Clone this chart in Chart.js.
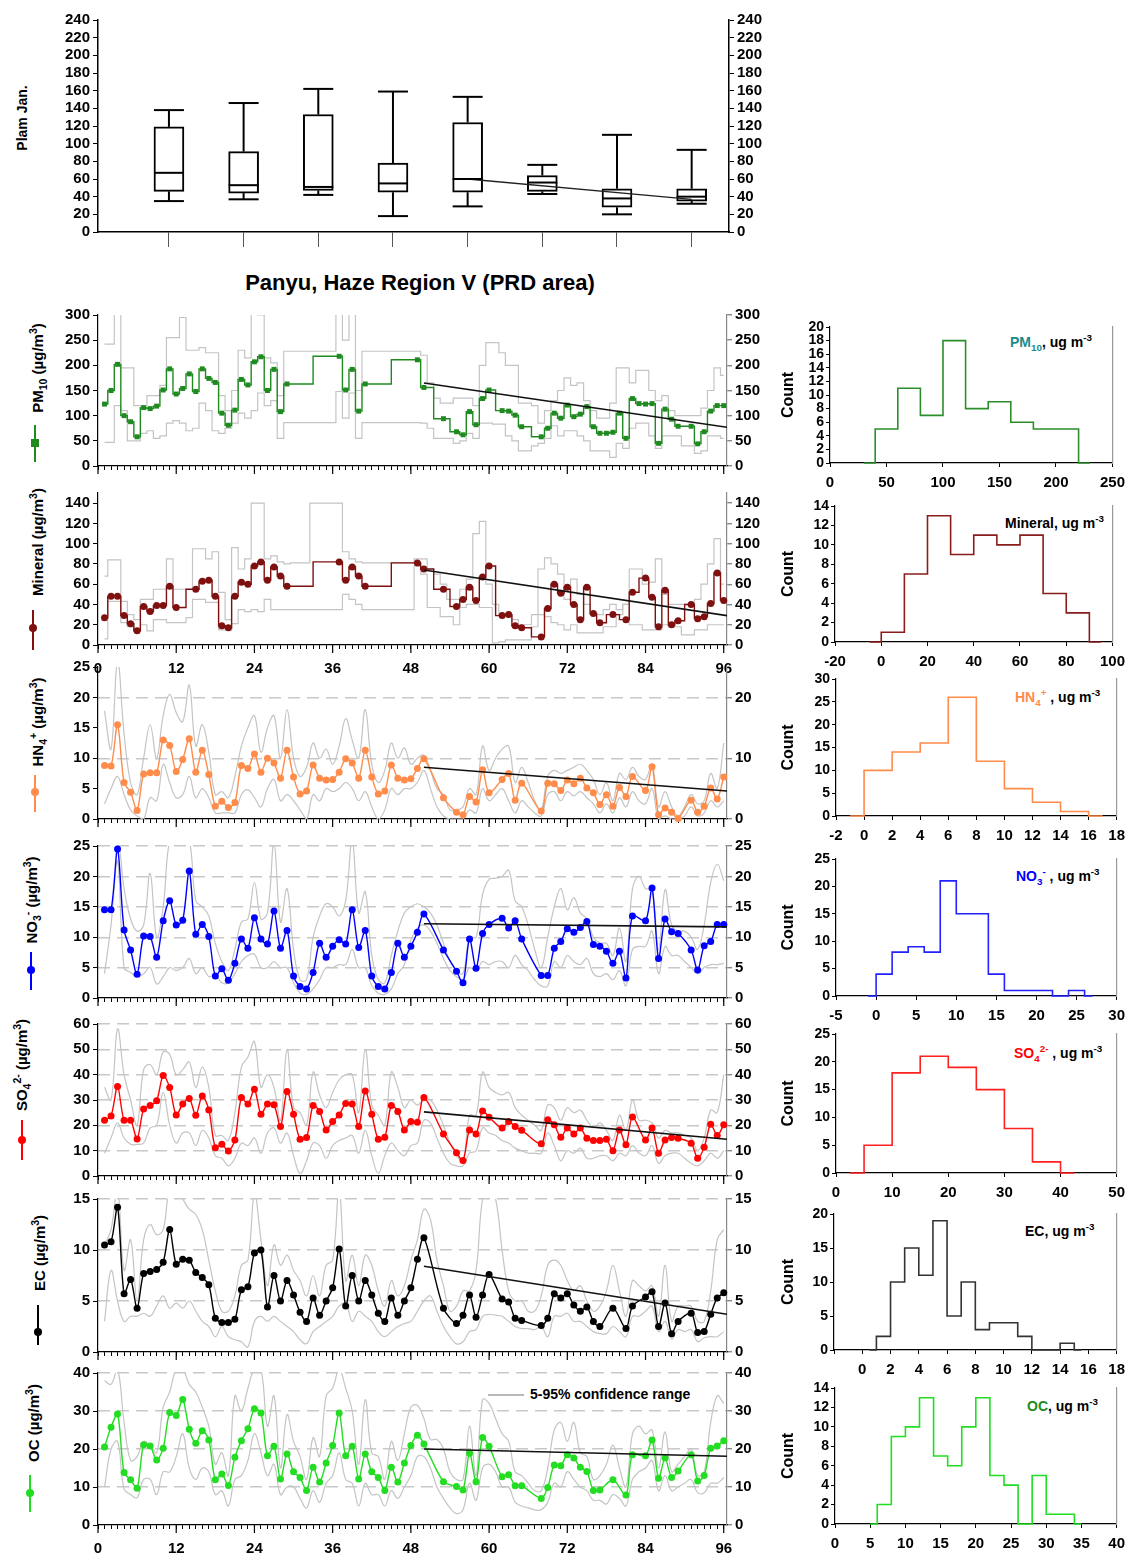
<!DOCTYPE html>
<html>
<head>
<meta charset="utf-8">
<title>Panyu, Haze Region V (PRD area)</title>
<script src="https://cdn.jsdelivr.net/npm/chart.js@4.4.1/dist/chart.umd.min.js"></script>
<style>
  body { margin: 0; background: #fff; }
  #page { position: relative; width: 1132px; height: 1557px; overflow: hidden;
          font-family: "Liberation Sans", Arial, sans-serif; font-weight: bold; color: #000; }
  #page canvas { position: absolute; }
  .rot { position: absolute; white-space: nowrap; font-size: 15px;
         transform: translate(-50%, -50%) rotate(-90deg); }
  .lbl { position: absolute; white-space: nowrap; font-size: 14px; }
  sub, sup { font-size: 0.7em; line-height: 0; }
  .vline { position: absolute; width: 1.5px; }
  .mark { position: absolute; width: 8px; height: 8px; border-radius: 50%; transform: translate(-50%, -50%); }
</style>
</head>
<body>
<div id="page">
  <!-- box plot labels -->
  <div class="rot" style="left:22px;top:118px;font-size:14px">Plam Jan.</div>
  <div style="position:absolute;left:420px;top:283px;transform:translate(-50%,-50%);font-size:22px;white-space:nowrap">Panyu, Haze Region V (PRD area)</div>

  <!-- time series axis titles + legend marks -->
  <div class="rot" style="left:37px;top:368px">PM<sub>10</sub> (µg/m<sup>3</sup>)</div>
  <div class="vline" style="left:34px;top:425px;height:37px;background:#1f8a1f"></div>
  <div class="mark" style="left:35px;top:443px;background:#1f8a1f;border-radius:0"></div>

  <div class="rot" style="left:37px;top:542px">Mineral (µg/m<sup>3</sup>)</div>
  <div class="vline" style="left:32px;top:610px;height:40px;background:#7f1010"></div>
  <div class="mark" style="left:33px;top:628px;background:#7f1010"></div>

  <div class="rot" style="left:37px;top:722px">HN<sub>4</sub><sup>+</sup> (µg/m<sup>3</sup>)</div>
  <div class="vline" style="left:34px;top:775px;height:37px;background:#ff8c4a"></div>
  <div class="mark" style="left:35px;top:792px;background:#ff8c4a"></div>

  <div class="rot" style="left:31px;top:900px">NO<sub>3</sub><sup>-</sup> (µg/m<sup>3</sup>)</div>
  <div class="vline" style="left:30px;top:952px;height:38px;background:#0000ff"></div>
  <div class="mark" style="left:31px;top:970px;background:#0000ff"></div>

  <div class="rot" style="left:21px;top:1065px">SO<sub>4</sub><sup>2-</sup> (µg/m<sup>3</sup>)</div>
  <div class="vline" style="left:21px;top:1120px;height:40px;background:#ff0000"></div>
  <div class="mark" style="left:22px;top:1140px;background:#ff0000"></div>

  <div class="rot" style="left:39px;top:1253px">EC (µg/m<sup>3</sup>)</div>
  <div class="vline" style="left:37px;top:1305px;height:40px;background:#000"></div>
  <div class="mark" style="left:38px;top:1332px;background:#000"></div>

  <div class="rot" style="left:33px;top:1423px">OC (µg/m<sup>3</sup>)</div>
  <div class="vline" style="left:29px;top:1475px;height:37px;background:#22dd22"></div>
  <div class="mark" style="left:30px;top:1493px;background:#22dd22"></div>

  <div style="position:absolute;left:488px;top:1394px;width:36px;height:1.5px;background:#b8b8b8"></div>
  <div class="lbl" style="left:530px;top:1386px">5-95% confidence range</div>

  <!-- histogram labels -->
  <div class="lbl" style="left:1010px;top:334px"><span style="color:#1a8c8c">PM<sub>10</sub></span>, ug m<sup>-3</sup></div>
  <div class="lbl" style="left:1005px;top:515px">Mineral, ug m<sup>-3</sup></div>
  <div class="lbl" style="left:1015px;top:689px"><span style="color:#ff8c4a">HN<sub>4</sub><sup>+</sup></span> , ug m<sup>-3</sup></div>
  <div class="lbl" style="left:1016px;top:868px"><span style="color:#0000ff">NO<sub>3</sub><sup>-</sup></span> , ug m<sup>-3</sup></div>
  <div class="lbl" style="left:1014px;top:1045px"><span style="color:#ff0000">SO<sub>4</sub><sup>2-</sup></span> , ug m<sup>-3</sup></div>
  <div class="lbl" style="left:1025px;top:1223px">EC, ug m<sup>-3</sup></div>
  <div class="lbl" style="left:1027px;top:1398px"><span style="color:#1a8c1a">OC</span>, ug m<sup>-3</sup></div>
</div>

<script>
// ---- box plot (monthly groups) ----
const boxGroups = [1, 2, 3, 4, 5, 6, 7, 8];
const boxMin = [35, 37, 42, 18, 29, 43, 20, 32];
const boxQ1  = [46, 44, 47, 45, 45, 46, 28, 35];
const boxMed = [67, 53, 51, 55, 60, 56, 38, 40];
const boxQ3  = [119, 91, 133, 78, 124, 64, 49, 49];
const boxMax = [138, 146, 162, 159, 153, 76, 110, 93];
const boxTrendX = [5, 8];
const boxTrend  = [60, 37];

// ---- time series, x = sample number 1..96 (null = no sample) ----
const hours = Array.from({ length: 96 }, (_, i) => i + 1);
const trendHours = [50, 96.5];

const pm10 = [123,150,202,100,88,58,116,114,119,151,193,143,154,183,148,193,174,166,105,81,111,172,161,207,217,150,192,108,163,
  null,null,null,null,null,null,null, 218,151,192,109,163, null,null,null,null,null,null,null, 211,156, null,null, 94, null,
  68,62,108,82,134,151, null, 110,109,101,78, null,null,
  58,75,105,95,121,98,103,118,78,65,65,67,105,55,134,124,123,124,45,113,93,79, null, 79,44,68,109,120,120];
const pm10Upper = [242,242,310,195,195,120,120,140,140,160,255,255,295,230,230,235,225,225,140,110,150,230,215,310,300,215,205,140,228,
  228,228,228,228,228,228,228, 310,250,310,150,228, 228,228,228,228,228,228,228,
  228,220,165,135,125,125,135,135,135,120,200,245,245,225,200,200,125,125,120,85,110,130,150,175,160,165,130,110,95,95,
  125,195,195,165,190,190,150,130,140,110,100,100,100,100,115,150,195,180];
const pm10Lower = [47,47,120,110,50,50,65,70,55,60,85,90,85,70,75,125,110,70,65,75,85,105,95,110,145,120,130,55,86,
  86,86,86,86,86,86,86, 148,95,145,55,86, 86,86,86,86,86,86,86,
  86,85,75,55,55,55,45,50,65,55,85,85,83,83,60,50,30,30,40,45,55,80,60,70,70,60,50,30,30,30,
  17,45,35,75,85,85,60,35,60,60,60,40,40,25,30,60,60,55];
const pm10Trend = [165, 77];

const mineral = [27,48,48,29,21,14,38,33,39,39,58,37, null,null, 55,63,64,48,19,17,48,62,60,78,82,64,77,68,58,
  null,null,null,null,null,null,null, 82,64,77,68,58, null,null,null,null,null,null,null, 81,75, null,null, 55, null,
  38,45,57,44,67,78, null, 29,30,19,17, null,null, 8,36,60,51,57,40,25,57,31,22, null, 30, null, 25,52, null,
  66,47,18,54,20,24, null, 40,26,28,41,71,44];
const mineralUpper = [68,84,84,43,30,25,45,45,55,55,85,55,55,55,95,95,85,92,52,25,96,75,85,140,140,85,88,82,80,
  81,81,81,140,140,140,140, 140,92,85,82,81, 81,81,81,81,81,81,81,
  85,85,75,70,60,45,45,55,65,110,122,60,40,30,30,25,20,20,30,75,86,80,70,45,65,50,40,30,30,35,
  40,35,40,75,75,60,62,85,50,40,40,40,40,45,60,80,105,60];
const mineralLower = [6,43,43,22,18,14,20,14,25,25,22,22,22,27,45,45,42,42,15,15,21,35,33,35,33,45,35,35,35,
  35,35,35,35,35,35,35, 35,50,45,40,35, 35,35,35,35,35,35,35,
  78,70,37,37,28,28,20,37,40,40,37,37,2,3,5,5,5,5,18,30,28,22,20,15,20,12,12,12,12,18,
  18,30,40,20,20,15,15,15,20,18,18,10,10,15,15,20,20,20];
const mineralTrend = [74, 29];

const nh4 = [8.8,8.7,15.5,6.0,4.4,1.4,7.4,7.6,7.6,13.0,12.1,7.8,9.8,13.2,7.7,11.3,7.3,2.1,2.9,1.9,2.7,8.8,8.3,10.7,7.7,
  10.0,9.2,6.7,11.3,6.9,4.1,4.6,8.9,6.7,6.4,6.5,7.7,9.9,9.2,6.7,11.3,6.9,4.1,4.6,8.9,6.7,6.4,6.6,8.3,9.9,
  null,null, 3.5, null, 1.1,0.7,3.7,2.8,8.1,4.3, null, 6.5,7.5,3.1,5.9, null,null,
  1.3,5.9,5.8,4.7,6.4,5.8,6.7,5.1,4.3,2.4,4.0,2.1,5.2,3.7,7.0, null, 4.7,8.6,0.7,1.8,1.1,0.1, null, 3.1,1.1,2.1,5.1,3.3,6.9];
const nh4Upper = [17.8,11.5,26,14,6,4,10,15.5,10,17,20.5,17.5,16,22,12,15.5,11,4,4.5,3.5,7,12,15,17,11,15,17,10,18,10,
  7,8.5,12.5,10,11.5,9,12,16.5,13,10,18,9,6,8,12.5,10,11.7,9,10,10.5,8,5,4,1.5,1.5,2,5,4,12,8,
  10,11.5,12,6,8.5,6,3,1.5,7,8,7.5,8,8.5,9,8,6.5,4,6,3,7.5,6.5,8.5,7,6.5,9,2,4.5,2,0.5,2,4,2.5,3,7.5,5,12.5];
const nh4Lower = [2.5,5,7,4,1.5,0.5,0,3.5,3,9,6,3.5,4,7,3.5,5,3.5,1,1,1,1,4,4.8,3.5,2,5,6.5,3,4,3,
  1.5,0,4,3,5,4.5,5,6,5,3,4.5,2,0,1.5,5,4,5,5,6,8,5,2,0.5,0,0,0,1.5,1,5,3,
  4,5,3,1,3,2,1,0.5,4,4.5,3,4.5,3.8,4.5,3.5,2.5,1,2.5,1,3.5,2,4.5,3,2.5,5,0,0.5,0,0,0.5,2,0.5,1,3,2,3];
const nh4Trend = [8.5, 4.6];

const no3 = [14.5,14.5,24.5,11.2,7.9,3.9,10.2,10.1,6.7,12.7,16.0,12.0,12.8,20.9,10.5,12.1,10.1,3.6,4.8,2.9,5.7,9.7,8.2,13.2,9.7,
  8.9,14.3,8.2,11.1,3.6,1.9,1.5,4.2,9.0,6.7,8.5,9.6,8.9,14.5,8.3,11.1,3.6,1.9,1.5,4.2,9.0,6.7,8.5,10.8,13.8,
  null,null, 7.9, null, 4.4,2.5,9.7,4.9,10.6,12.1, null, 13.1,11.5,12.7,9.7, null,null,
  3.7,3.7,8.2,9.3,11.4,10.8,11.6,12.6,8.8,8.5,7.7,5.7,7.7,3.3,13.5, null, 12.7,18.1,6.5,13.0,10.9,10.6, null, 7.9,4.6,8.6,9.3,12.1,12.1];
const no3Upper = [26,26,26,18,13,11,12,20.5,10,15,26,26,26,26,16,15,13.5,9,6,4.5,8,12.5,13,19,13,14,25.5,12.5,18,8,
  3,3,10,13.5,15.5,15,13.5,16,26,14,17.5,7,3,2.5,7,11,14,15,15.5,15,14,12,9,6,4.5,4,10,10,17,19.5,
  19.7,20,21,16,15,12,8,5,10,15,18,14.5,16.5,14,13,10,9,9,7,11.5,6,18,20,18,17.8,8,17.8,12,11,11,10,8,12,19,22,19.3];
const no3Lower = [4,12,22.5,5,4.2,3.5,4,5,2.3,3.5,5,4.5,5,6.5,4,5,3.5,3.8,2.5,2.5,4,6,7,7.2,5,5,6,5,5,2.5,
  0.8,0.6,1.5,3,5,5,5.5,5.5,8,5,5,2,0.8,0.6,1.5,4,5.5,9.5,11.5,12,11,9,6.5,4.5,3.5,3,5,4.5,6,5.5,
  6,6,5,7,5.5,4.5,3,2,2,6,5,7,6,5.5,6.5,4,3.5,4,3,4.5,2,8,8.5,8.5,11,4,8.5,7,7,6,5,4,5,5.5,5.5,5.7];
const no3Trend = [12.2, 11.7];

const so4 = [22.0,23.7,35.3,22.0,22.0,14.6,26.4,27.8,29.7,39.7,34.9,24.1,28.4,30.6,24.0,31.6,26.1,11.2,12.5,9.9,14.2,31.0,28.4,34.2,24.4,
  28.4,28.1,19.5,33.4,24.4,14.5,15.2,27.8,25.5,18.2,21.5,24.1,28.6,28.4,19.5,33.6,24.4,14.5,15.3,27.8,25.5,18.2,21.5,21.2,31.0,
  null,null, 16.6, null, 9.2,6.1,18.2,16.6,25.7,23.2, null, 18.9,21.5,19.5,18.1, null,null,
  12.7,22.2,20.2,15.3,18.9,16.6,18.9,14.9,14.0,14.0,14.5,10.0,18.2,12.3,23.3, null, 14.2,18.9,9.0,14.2,15.2,14.9, null, 12.9,7.0,11.3,20.4,16.0,20.2];
const so4Upper = [35,30,58,40,30,20,42,44,40,49,48,40,42,45,35,43,35,16,16,14,25,43,47,53,35,40,35,22,50,27,
  25,20,41,32,27,33,38,40,40,25,50,28,24,20,41,35,27,30,28,30,30,26,20,13,8,6,24,24,41,35,
  33,32,33,27,24,22,20,18,28,27,22,27,25,26,22,19,21,18,14,24,18,30,22,22,21,15,18,17,17,16,15,10,15,26,25,40];
const so4Lower = [9,15,21,15,12.5,12.5,13,19,20,33,20,13,17,17,12,18,15,8,7,4,7,13,12,15,9,17,19,13,17,8,
  1,6,13,12,7,12,14,15,16,9,18,8,1,8,13,10,8,12,13,22,21,15,9,5,4,4,9,10,19,17,
  16,14,13,11,10,9,9,9,17,12,6,10,9,11,7,7,8,8,6,9,8,12,9,8,12,5,8,9,9,7,5,4,6,9,7,10];
const so4Trend = [25.3, 14.5];

const ec = [10.5,10.8,14.2,5.7,7.1,4.3,7.7,7.9,8.1,8.8,12.0,8.6,9.1,9.0,7.8,7.3,6.6,3.3,2.9,2.9,3.2,6.1,6.4,9.7,10.0,
  4.4,7.5,5.0,7.0,5.6,3.9,3.0,5.3,3.6,5.0,6.3,10.1,4.5,7.5,5.0,7.0,5.6,3.8,3.0,5.3,3.6,5.0,6.3,9.1,11.2,
  null,null, 4.3, null, 2.8,3.6,5.6,3.4,5.6,7.6, null, 5.2,4.9,3.3,3.1, null,null,
  2.6,3.3,5.7,5.3,5.7,4.6,4.0,4.4,3.0,2.5, null, 4.3, null, 2.3,4.5, null, 5.4,5.9,2.5,4.8,1.8,3.0, null, 3.8,1.9,2.0,3.7,5.3,5.8];
const ecUpper = [10.5,12,16,8,11,5,11,12.5,11.5,12,16,16,15,14,13.5,12,9,6,4,4,5.5,8.5,9,15.5,11,6.5,10.5,8.5,9.5,8,
  7,5.5,7.5,5.5,8.5,9,16,7,9.5,6.5,9.5,8.5,6,4.5,7,5.5,6.5,9,11,14,13,9,6.5,4,4.5,6,6,8,15,16,
  15,10,6,5,5,4,4,5.5,8.5,9,8.5,7,6,6.5,5,4,4.5,6,8.5,6,3.5,7,6.5,6,6.5,3.5,8.5,3,4.5,4.5,4.5,3,3,6,11,12];
const ecLower = [3,8,5,3,3.5,3.5,3.8,3.5,4.5,5.5,4.3,4.8,4.3,5,4,3,2.5,1.5,2.5,1.5,1.2,1,0.5,3,3.5,3,3.5,3,2.5,2,
  1.2,0.8,2,2.5,3,3.5,4.5,4.8,3,4,3.5,3,2,1.5,2,2.5,2.8,3,4,5,5.5,4,2.5,1.5,0.8,1,2,2.2,3.5,3.7,
  3.6,3.5,3,2.5,2.3,2.3,2.2,2.5,1.5,3.5,3.5,3.8,3,3,2.5,2,1.8,1.8,2.5,2,1.5,3.5,3.5,4,4.5,2,3,1.3,2.2,2,2.2,1,1.4,1.5,1.5,2];
const ecTrend = [8.4, 3.7];

const oc = [20.5,25.7,29.2,13.8,11.9,9.7,21.1,20.8,17.1,20.2,29.6,28.8,33.0,25.2,21.5,24.8,22.4,11.9,13.4,10.4,17.8,22.2,25.3,30.6,29.5,
  18.2,20.7,12.1,18.7,14.0,12.5,9.1,15.2,11.3,16.3,20.9,29.5,18.2,20.7,12.1,18.7,14.0,12.5,9.1,15.2,11.3,16.3,20.9,23.6,21.3,
  null,null, 11.4, null, 10.1,9.2,18.9,11.4,23.0,20.7, null, 12.7,13.2,10.3,10.3, null,null,
  7.0,9.9,15.8,15.6,18.5,17.6,15.2,14.1,9.1,9.2, null, 11.9, null, 7.9,18.5, null, 18.2,22.4,12.3,17.6,12.5,14.2, null, 18.5,11.6,13.0,20.2,20.8,22.2];
const ocUpper = [38,37,41,27,17,18,22,21,19,31,35,41,41,37,35,31,26,16,19,13,34,30,36,41,41,26,34,15,29,22,
  18,12,23,18,34,36,41,36,30,16,33,19,18,12,22,17,24,31,31.5,28,22.5,22.5,20,14,12,12,26,13,33,32,
  28,24,22,14,13,11,9,9,15,25,27,22,27,19,18,12,13,16,21,15,10,24,26,24,25,15,24.5,14,16,18,20,13,14,27,34,32];
const ocLower = [10,20,22,9.5,8,7.2,12,12,8,14,14,18,24,15,12,15,14,8,9,5,12,13,17,24,19,13,16,8,10,10,
  7,4.5,9,6,11,13,19,12,11,5,11,8,8,5,9,7,10,13,18,18,15,10,7,4.5,3,4,11,6.5,15,16,
  14,10,10,6,5,4.5,4,4,6,11,10,14,12,10,9,6.5,6.5,5.5,8,7,5,12,14,15,17,9,13,9,10,11,12,8.5,8.5,11,11,12.5];
const ocTrend = [20.0, 18.1];

// ---- histograms: bin edges and counts per bin ----
const pm10Edges = [30,40,60,80,100,120,140,160,180,200,220,230];
const pm10Counts = [0,5,11,7,18,8,9,6,5,5,0];
const mineralEdges = [-5,0,10,20,30,40,50,60,70,80,90,95];
const mineralCounts = [0,1,7,13,9,11,10,11,5,3,0];
const nh4Edges = [-1,0,2,4,6,8,10,12,14,16,17];
const nh4Counts = [0,10,14,16,26,12,6,3,1,0];
const no3Edges = [-1,0,2,4,6,8,10,14,16,22,24,26,27];
const no3Counts = [0,4,8,9,8,21,15,4,1,0,1,0];
const so4Edges = [2.5,5,10,15,20,25,30,35,40,42.5];
const so4Counts = [0,5,18,21,19,15,8,2,0];
const ecEdges = [0.5,1,2,3,4,5,6,7,8,9,11,12,14,15,15.5];
const ecCounts = [0,2,10,15,11,19,5,10,3,4,2,0,1,0];
const ocEdges = [5,6,8,10,12,14,16,18,20,22,24,26,28,30,34,35];
const ocCounts = [0,2,9,10,13,7,6,10,13,5,4,0,5,1,0];

const tickFont = { family: '"Liberation Sans", Arial, sans-serif', weight: 'bold', size: 15 };
const noUi = { legend: { display: false }, tooltip: { enabled: false } };

function place(left, top, width, height) {
  const cv = document.createElement('canvas');
  cv.width = width; cv.height = height;
  cv.style.left = left + 'px'; cv.style.top = top + 'px';
  cv.style.width = width + 'px'; cv.style.height = height + 'px';
  document.getElementById('page').appendChild(cv);
  return cv;
}

function pts(vals) {
  return hours.map((h, i) => ({ x: h, y: vals[i] })).filter(p => p.y !== null);
}

// longer ticks every 12 samples on the time axis
const majorTicks = {
  id: 'majorTicks',
  afterDraw(chart) {
    const x = chart.scales.x, b = chart.chartArea.bottom, ctx = chart.ctx;
    ctx.save();
    ctx.strokeStyle = '#000'; ctx.lineWidth = 1.2;
    for (let v = 0; v <= 96; v += 12) {
      const px = x.getPixelForValue(v);
      ctx.beginPath(); ctx.moveTo(px, b); ctx.lineTo(px, b + 8); ctx.stroke();
    }
    ctx.restore();
  }
};

// whiskers and medians for the box plot
const whiskers = {
  id: 'whiskers',
  afterDatasetsDraw(chart) {
    const { ctx, scales: { x, y } } = chart;
    const seg = (x1, y1, x2, y2) => { ctx.beginPath(); ctx.moveTo(x1, y1); ctx.lineTo(x2, y2); ctx.stroke(); };
    ctx.save();
    ctx.strokeStyle = '#000'; ctx.lineWidth = 2;
    boxGroups.forEach((g, i) => {
      const cx = x.getPixelForValue(g), hw = 15;
      const yMax = y.getPixelForValue(boxMax[i]), yMin = y.getPixelForValue(boxMin[i]);
      const yMed = y.getPixelForValue(boxMed[i]);
      seg(cx, y.getPixelForValue(boxQ3[i]), cx, yMax);
      seg(cx, y.getPixelForValue(boxQ1[i]), cx, yMin);
      seg(cx - hw, yMax, cx + hw, yMax);
      seg(cx - hw, yMin, cx + hw, yMin);
      seg(cx - hw, yMed, cx + hw, yMed);
    });
    ctx.restore();
  }
};

// box plot
new Chart(place(0, 8, 775, 244), {
  type: 'bar',
  data: {
    datasets: [
      { type: 'line', data: boxTrendX.map((x, i) => ({ x, y: boxTrend[i] })),
        borderColor: '#222', borderWidth: 1.3, pointRadius: 0, order: 0 },
      { data: boxQ1.map((q, i) => ({ x: boxGroups[i], y: [q, boxQ3[i]] })),
        backgroundColor: '#fff', borderColor: '#000', borderWidth: 2, borderSkipped: false,
        barThickness: 30, order: 1 }
    ]
  },
  options: {
    responsive: false, animation: false, events: [],
    layout: { padding: { top: 12 } },
    plugins: noUi,
    scales: {
      x: { type: 'linear', min: 0.05, max: 8.5, offset: false,
        afterBuildTicks: s => { s.ticks = boxGroups.map(v => ({ value: v })); },
        afterFit: s => { s.height = 20; },
        ticks: { callback: () => '' },
        grid: { drawOnChartArea: false, offset: false, tickLength: 15, tickColor: '#555' },
        border: { color: '#000', width: 1.5 } },
      y: { min: 0, max: 240, afterFit: s => { s.width = 98; },
        ticks: { stepSize: 20, autoSkip: false, font: tickFont, color: '#000', padding: 3 },
        grid: { drawOnChartArea: false, tickLength: 5, tickColor: '#000' },
        border: { color: '#000', width: 1.5 } },
      y2: { position: 'right', min: 0, max: 240, afterFit: s => { s.width = 46; },
        ticks: { stepSize: 20, autoSkip: false, font: tickFont, color: '#000', padding: 3 },
        grid: { drawOnChartArea: false, tickLength: 5, tickColor: '#000' },
        border: { color: '#000', width: 1.5 } }
    }
  },
  plugins: [whiskers]
});

function timePanel(p) {
  const cv = place(0, p.top - 12, 775, p.bottom - p.top + 48);
  const step = p.stepped ? 'middle' : false;
  const gray = vals => ({
    data: pts(vals), borderColor: '#c4c4c4', borderWidth: 1.2, pointRadius: 0,
    tension: 0.4, stepped: step, clip: 0, order: 3
  });
  new Chart(cv, {
    type: 'line',
    data: {
      datasets: [
        gray(p.upper), gray(p.lower),
        { data: pts(p.main), borderColor: p.color, backgroundColor: p.color, borderWidth: 1.4,
          pointRadius: 3.5, pointStyle: p.marker || 'circle', pointBorderWidth: 0,
          tension: 0.3, stepped: step, clip: 5, order: 2 },
        { data: trendHours.map((h, i) => ({ x: h, y: p.trend[i] })),
          borderColor: '#111', borderWidth: 1.6, pointRadius: 0, order: 1 }
      ]
    },
    options: {
      responsive: false, animation: false, events: [],
      layout: { padding: { top: 12 } },
      plugins: noUi,
      scales: {
        x: { type: 'linear', min: 0, max: 96.5,
          afterFit: s => { s.height = 36; },
          ticks: { stepSize: 1, autoSkip: false, maxRotation: 0, includeBounds: false, padding: 11,
                   font: tickFont, color: '#000',
                   callback: v => (p.xLabels && v % 12 === 0) ? String(v) : '' },
          grid: { drawOnChartArea: false, tickLength: 4, tickColor: '#000' },
          border: { color: '#000', width: 1.2 } },
        y: { min: 0, max: p.yMax, afterFit: s => { s.width = 98; },
          ticks: { stepSize: p.yStep, includeBounds: false, autoSkip: false, font: tickFont, color: '#000', padding: 3 },
          grid: { drawOnChartArea: false, tickLength: 5, tickColor: '#000' },
          border: { color: '#000', width: 1.2 } },
        y2: { position: 'right', min: 0, max: p.yMax, afterFit: s => { s.width = 48; },
          ticks: { stepSize: p.rightStep || p.yStep, includeBounds: false, autoSkip: false, font: tickFont, color: '#000', padding: 3 },
          grid: { drawOnChartArea: !!p.dashed, lineWidth: 1.4, tickLength: 5, tickColor: '#888',
                  color: c => (c.tick && c.tick.value > 0) ? '#c8c8c8' : 'rgba(0,0,0,0)' },
          border: { color: '#888', width: 1.2, dash: [12, 7] } }
      }
    },
    plugins: [majorTicks]
  });
}

function histPanel(p) {
  const cv = place(775, p.top - 12, 357, p.bottom - p.top + 46);
  // each edge carries the count of the bin that starts there
  const data = p.edges.map((e, i) => ({ x: e, y: p.counts[Math.min(i, p.counts.length - 1)] }));
  new Chart(cv, {
    type: 'line',
    data: { datasets: [{ data, borderColor: p.color, borderWidth: 1.6, pointRadius: 0, stepped: 'before', clip: 2 }] },
    options: {
      responsive: false, animation: false, events: [],
      layout: { padding: { top: 12 } },
      plugins: noUi,
      scales: {
        x: { type: 'linear', min: p.xMin, max: p.xMax, afterFit: s => { s.height = 34; },
          ticks: { stepSize: p.xStep, autoSkip: false, maxRotation: 0, padding: 7, font: tickFont, color: '#000',
                   callback: v => (p.hideNeg && v < 0) ? '' : v },
          grid: { drawOnChartArea: false, tickLength: 4, tickColor: '#000' },
          border: { color: '#000', width: 1.2 } },
        y: { min: 0, max: p.yMax, afterFit: s => { s.width = p.left - 775; },
          title: { display: true, text: 'Count', color: '#000', font: { ...tickFont, size: 16 } },
          ticks: { stepSize: p.yStep, autoSkip: false, font: { ...tickFont, size: 14 }, color: '#000', padding: 2 },
          grid: { drawOnChartArea: false, tickLength: 4, tickColor: '#000' },
          border: { color: '#000', width: 1.2 } },
        y2: { position: 'right', min: 0, max: p.yMax, afterFit: s => { s.width = 1132 - p.right; },
          ticks: { display: false }, grid: { display: false },
          border: { color: '#999', width: 1.2 } }
      }
    }
  });
}

timePanel({ top: 315, bottom: 466, yMax: 300, yStep: 50, color: '#1f8a1f', marker: 'rect', stepped: true,
  main: pm10, upper: pm10Upper, lower: pm10Lower, trend: pm10Trend });
timePanel({ top: 493, bottom: 645, yMax: 150, yStep: 20, color: '#7f1010', stepped: true, xLabels: true,
  main: mineral, upper: mineralUpper, lower: mineralLower, trend: mineralTrend });
timePanel({ top: 667, bottom: 819, yMax: 25, yStep: 5, rightStep: 10, color: '#ff8c4a', dashed: true,
  main: nh4, upper: nh4Upper, lower: nh4Lower, trend: nh4Trend });
timePanel({ top: 846, bottom: 998, yMax: 25, yStep: 5, color: '#0000ff', dashed: true,
  main: no3, upper: no3Upper, lower: no3Lower, trend: no3Trend });
timePanel({ top: 1024, bottom: 1176, yMax: 60, yStep: 10, color: '#ff0000', dashed: true,
  main: so4, upper: so4Upper, lower: so4Lower, trend: so4Trend });
timePanel({ top: 1199, bottom: 1352, yMax: 15, yStep: 5, color: '#000000', dashed: true,
  main: ec, upper: ecUpper, lower: ecLower, trend: ecTrend });
timePanel({ top: 1373, bottom: 1525, yMax: 40, yStep: 10, color: '#22dd22', dashed: true, xLabels: true,
  main: oc, upper: ocUpper, lower: ocLower, trend: ocTrend });

histPanel({ top: 327, bottom: 463, left: 830, right: 1115, xMin: 0, xMax: 250, xStep: 50, yMax: 20, yStep: 2,
  color: '#2a8f2a', edges: pm10Edges, counts: pm10Counts });
histPanel({ top: 506, bottom: 642, left: 835, right: 1118, xMin: -20, xMax: 100, xStep: 20, yMax: 14, yStep: 2,
  color: '#8b1c1c', edges: mineralEdges, counts: mineralCounts });
histPanel({ top: 679, bottom: 816, left: 836, right: 1120, xMin: -2, xMax: 18, xStep: 2, yMax: 30, yStep: 5,
  color: '#ff8c4a', edges: nh4Edges, counts: nh4Counts });
histPanel({ top: 859, bottom: 996, left: 836, right: 1120, xMin: -5, xMax: 30, xStep: 5, yMax: 25, yStep: 5,
  color: '#2222ff', edges: no3Edges, counts: no3Counts });
histPanel({ top: 1034, bottom: 1173, left: 836, right: 1120, xMin: 0, xMax: 50, xStep: 10, yMax: 25, yStep: 5,
  color: '#ff2020', edges: so4Edges, counts: so4Counts });
histPanel({ top: 1214, bottom: 1350, left: 834, right: 1118, xMin: -2, xMax: 18, xStep: 2, yMax: 20, yStep: 5,
  color: '#333', edges: ecEdges, counts: ecCounts, hideNeg: true });
histPanel({ top: 1388, bottom: 1524, left: 835, right: 1122, xMin: 0, xMax: 40, xStep: 5, yMax: 14, yStep: 2,
  color: '#22dd22', edges: ocEdges, counts: ocCounts });
</script>
</body>
</html>
